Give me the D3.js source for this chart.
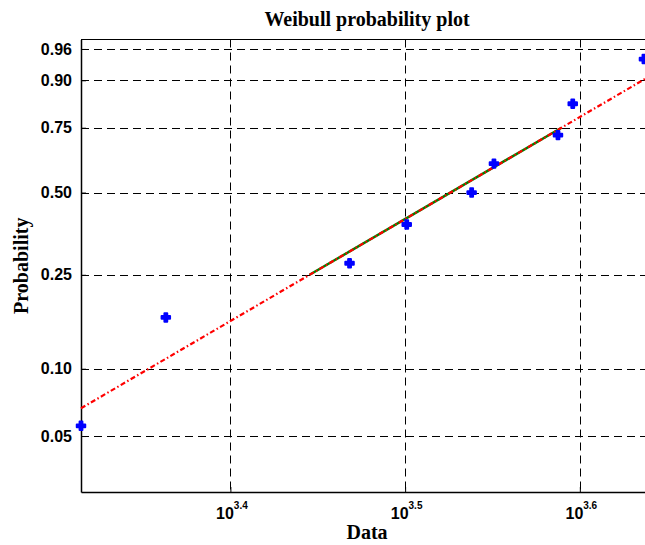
<!DOCTYPE html>
<html>
<head>
<meta charset="utf-8">
<script src="https://cdn.jsdelivr.net/npm/d3@7"></script>
<style>
  html, body { margin: 0; padding: 0; background: #fff; overflow: hidden; }
  svg { display: block; }
</style>
</head>
<body>
<script>
// ---- data ----
const dataX = [2063, 2307, 2939, 3169, 3452, 3555, 3868, 3944, 4332];
const dataP = [0.0556, 0.1667, 0.2778, 0.3889, 0.5, 0.6111, 0.7222, 0.8333, 0.9444];
const yTickValues = [0.05, 0.10, 0.25, 0.50, 0.75, 0.90, 0.96];
const yTickLabels = ["0.05", "0.10", "0.25", "0.50", "0.75", "0.90", "0.96"];
const xTickExponents = [3.4, 3.5, 3.6];
const xLimits = [2063, 4384];
const pLimits = [0.0278, 0.9716];
const fitScale = 3627;   // Weibull scale a
const fitShape = 4.738;  // Weibull shape b
const solidRange = [0.25, 0.75];

const W = 645, H = 545;
const margin = { left: 81, top: 39.5, right: 653, bottom: 492 };

const wbl = p => Math.log(-Math.log(1 - p));

const svg = d3.select("body").append("svg")
  .attr("width", W).attr("height", H);

const x = d3.scaleLog().domain(xLimits).range([margin.left, margin.right]);
const y = d3.scaleLinear().domain([wbl(pLimits[0]), wbl(pLimits[1])]).range([margin.bottom, margin.top]);

// grid
const grid = svg.append("g").attr("stroke", "#000").attr("stroke-width", 1)
  .attr("stroke-dasharray", "8,5").attr("fill", "none");
grid.selectAll("line.h").data(yTickValues).join("line").attr("class", "h")
  .attr("x1", margin.left).attr("x2", margin.right)
  .attr("y1", d => Math.round(y(wbl(d))) + 0.5).attr("y2", d => Math.round(y(wbl(d))) + 0.5);
grid.selectAll("line.v").data(xTickExponents).join("line").attr("class", "v")
  .attr("y1", margin.top).attr("y2", margin.bottom)
  .attr("x1", d => Math.round(x(Math.pow(10, d))) + 0.5).attr("x2", d => Math.round(x(Math.pow(10, d))) + 0.5);

// axes
const yAxis = d3.axisLeft(y)
  .tickValues(yTickValues.map(wbl))
  .tickFormat((d, i) => yTickLabels[i])
  .tickSizeInner(-5).tickSizeOuter(0).tickPadding(9);
const gy = svg.append("g").attr("transform", `translate(${margin.left},0)`).call(yAxis);
gy.select(".domain").attr("stroke-width", 1.5);
gy.selectAll("text").attr("font-family", "Liberation Sans, Arial, sans-serif")
  .attr("font-weight", "bold").attr("font-size", 16).attr("fill", "#000");

const xAxis = d3.axisBottom(x)
  .tickValues(xTickExponents.map(e => Math.pow(10, e)))
  .tickFormat("")
  .tickSizeInner(-5).tickSizeOuter(0);
const gx = svg.append("g").attr("transform", `translate(0,${margin.bottom})`).call(xAxis);
gx.select(".domain").attr("stroke-width", 1.5);
gx.selectAll(".tick").each(function (d, i) {
  const t = d3.select(this).append("text")
    .attr("fill", "#000")
    .attr("font-family", "Liberation Sans, Arial, sans-serif")
    .attr("font-weight", "bold")
    .attr("y", 27).attr("x", 1).attr("text-anchor", "middle");
  t.append("tspan").attr("font-size", 16).text("10");
  t.append("tspan").attr("font-size", 10).attr("dy", -10).text(xTickExponents[i].toFixed(1));
});

// top border
svg.append("line").attr("x1", margin.left).attr("x2", margin.right)
  .attr("y1", margin.top).attr("y2", margin.top)
  .attr("stroke", "#000").attr("stroke-width", 1.2);

// fit line
const fitY = xv => fitShape * (Math.log(xv) - Math.log(fitScale));
const fitX = p => fitScale * Math.pow(-Math.log(1 - p), 1 / fitShape);
const line = d3.line().x(d => x(d)).y(d => y(fitY(d)));

svg.append("path")
  .datum([fitX(solidRange[0]), fitX(solidRange[1])])
  .attr("d", line).attr("fill", "none")
  .attr("stroke", "#008000").attr("stroke-width", 2.5);

svg.append("path")
  .datum(xLimits)
  .attr("d", line).attr("fill", "none")
  .attr("stroke", "#ff0000").attr("stroke-width", 2.2)
  .attr("stroke-dasharray", "5,2.5,1.5,2.5");

// data points
svg.append("g").selectAll("path").data(dataX).join("path")
  .attr("transform", (d, i) => `translate(${x(d)},${y(wbl(dataP[i]))})`)
  .attr("d", d3.symbol(d3.symbolCross, 40))
  .attr("fill", "#0000ff").attr("stroke", "#0000ff").attr("stroke-width", 2)
  .attr("stroke-linejoin", "round");

// titles
svg.append("text").attr("x", (margin.left + margin.right) / 2).attr("y", 26)
  .attr("text-anchor", "middle")
  .attr("font-family", "Liberation Serif, 'Times New Roman', serif")
  .attr("font-weight", "bold").attr("font-size", 20)
  .text("Weibull probability plot");

svg.append("text").attr("x", (margin.left + margin.right) / 2).attr("y", 539)
  .attr("text-anchor", "middle")
  .attr("font-family", "Liberation Serif, 'Times New Roman', serif")
  .attr("font-weight", "bold").attr("font-size", 20)
  .text("Data");

svg.append("text")
  .attr("transform", `translate(28,${(margin.top + margin.bottom) / 2}) rotate(-90)`)
  .attr("text-anchor", "middle")
  .attr("font-family", "Liberation Serif, 'Times New Roman', serif")
  .attr("font-weight", "bold").attr("font-size", 20)
  .text("Probability");
</script>
</body>
</html>
